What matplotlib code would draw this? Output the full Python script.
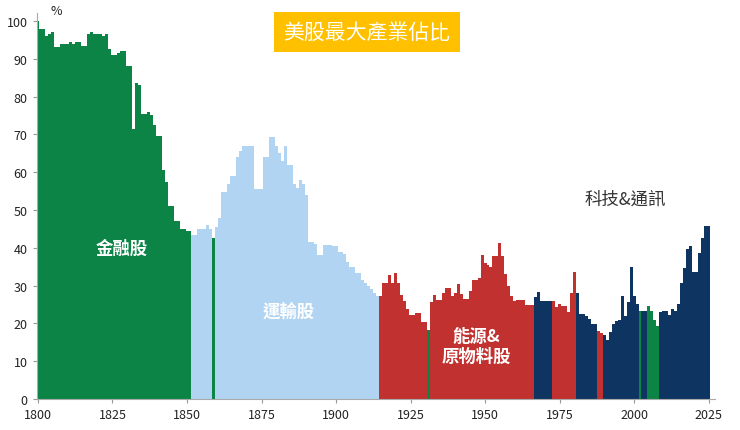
import matplotlib

matplotlib.use("Agg")

import matplotlib.pyplot as plt  # noqa: E402

plt.rcParams["font.family"] = ["Noto Sans CJK TC", "DejaVu Sans"]

# year-by-year share of largest sector (%), 1800..2025
FIN = [100, 98, 98, 96, 96.5, 97, 93, 93, 94, 94, 94, 94.5, 94, 94.5, 94.5,
       93.5, 93.5, 96.5, 97, 96.5, 96.5, 96.5, 96, 96.5, 92.5, 91, 91, 91.5,
       92, 92, 88, 88, 71.5, 83.5, 83, 75.5, 75.5, 76, 75, 72.5, 69.5, 69.5,
       60.5, 57.5, 51, 51, 47, 47, 45, 45, 44.5, 44.5]            # 1800-1851
TRANS = [43.4, 43.4, 45, 45, 45, 46, 45, 42.6, 45.5, 48, 54.7, 54.7, 57, 59,
         59, 64, 65.7, 67, 67, 67, 67, 55.5, 55.5, 55.5, 64, 64, 69.3, 69.3,
         67, 65, 63, 67, 62, 62, 57, 55.7, 58, 57, 54, 41.5, 41.5, 41, 38.2,
         38.2, 40.8, 40.8, 40.8, 40.4, 40.4, 38.8, 38.8, 38.4, 36.2, 35, 35,
         33.3, 33.3, 31.5, 30.8, 30, 29, 28, 27.3]                 # 1852-1914
REST = [27.3, 30.6, 30.6, 32.8, 30.8, 33.3, 30.8, 27.5, 26, 23.8, 22.3, 22.3,
        22.7, 22.7, 20.3, 20.3, 18.3, 25.6, 27.5, 26.3, 26.3, 28, 29.3, 29.3,
        27.3, 28, 30.4, 27.8, 26.5, 26.5, 28.7, 31.5, 31.5, 32, 38.2, 35.9,
        35.5, 34.8, 37.7, 37.7, 41.3, 37.7, 33, 30, 27.3, 25.8, 26.2, 26.2,
        26.2, 24.9, 24.9, 24.9,                                    # 1915-1966
        26.9, 28.2, 26, 25.8, 25.8, 25.8,                          # 1967-1972
        26, 24.3, 25, 24.7, 24.7, 22.9, 28, 33.7,                  # 1973-1980
        28, 22.5, 22.5, 22, 21.2, 19.9, 19.9,                      # 1981-1987
        18.1, 17.5,                                                # 1988-1989
        16.8, 15.5, 17.6, 19.9, 20.7, 21, 27.3, 22, 25.6, 34.8, 27.3, 25,
        23.3, 23.3, 23.3, 24.7, 23.3, 21, 19.4,                    # 2002-2008
        22.9, 23.3, 23.3, 22.3, 23.8, 23.3, 25, 30.8, 34.6, 39.7, 40.4,
        33.7, 33.7, 38.5, 42.5, 45.7, 45.7]                        # 2009-2025
VALUES = FIN + TRANS + REST
YEARS = list(range(1800, 1800 + len(VALUES)))

# sector spans (first year, last year, sector)
SPANS = [(1800, 1851, "fin"), (1852, 1914, "trans"), (1859, 1859, "fin"),
         (1915, 1966, "energy"), (1931, 1931, "fin"),
         (1967, 1972, "tech"), (1973, 1980, "energy"), (1981, 1987, "tech"),
         (1988, 1989, "energy"), (1990, 2025, "tech"), (2002, 2002, "fin"),
         (2005, 2008, "fin")]
COLORS = {"fin": "#0b8446", "trans": "#b0d4f1", "energy": "#c1312f",
          "tech": "#0e3561"}

bar_colors = []
for y in YEARS:
    c = None
    for a, b, k in SPANS:
        if a <= y <= b:
            c = COLORS[k]
    bar_colors.append(c)

fig = plt.figure(figsize=(7.4, 4.31), dpi=100)
ax = fig.add_axes([36.5 / 740, 31 / 431, 678 / 740, 385.6 / 431])
ax.bar(YEARS, VALUES, width=1.0, color=bar_colors, linewidth=0)
ax.set_xlim(1799.5, 2027)
ax.set_ylim(0, 102)
ax.set_xticks(range(1800, 2026, 25))
ax.set_yticks(range(0, 101, 10))
ax.tick_params(labelsize=9, length=3, color="#999999", colors="#222222")
for s in ("top", "right"):
    ax.spines[s].set_visible(False)
for s in ("left", "bottom"):
    ax.spines[s].set_color("#aaaaaa")
ax.text(1806, 101, "%", fontsize=9, ha="center", va="bottom", color="#222222")

ax.text(1828, 40, "金融股", color="white", fontsize=12.5, fontweight="bold",
        ha="center", va="center")
ax.text(1884, 23.5, "運輸股", color="white", fontsize=12.5, fontweight="bold",
        ha="center", va="center")
ax.text(1947, 14, "能源&\n原物料股", color="white", fontsize=12.5,
        fontweight="bold", ha="center", va="center", linespacing=1.15)
ax.text(1997, 53, "科技&通訊", color="#333333", fontsize=12.5,
        ha="center", va="center")

fig.text(367 / 740, 1 - 33 / 431, "美股最大產業佔比", color="white",
         fontsize=15, ha="center", va="center",
         bbox=dict(boxstyle="square,pad=0.45", facecolor="#ffc000",
                   edgecolor="none"))

fig.savefig("out.png", dpi=100, facecolor="white")
